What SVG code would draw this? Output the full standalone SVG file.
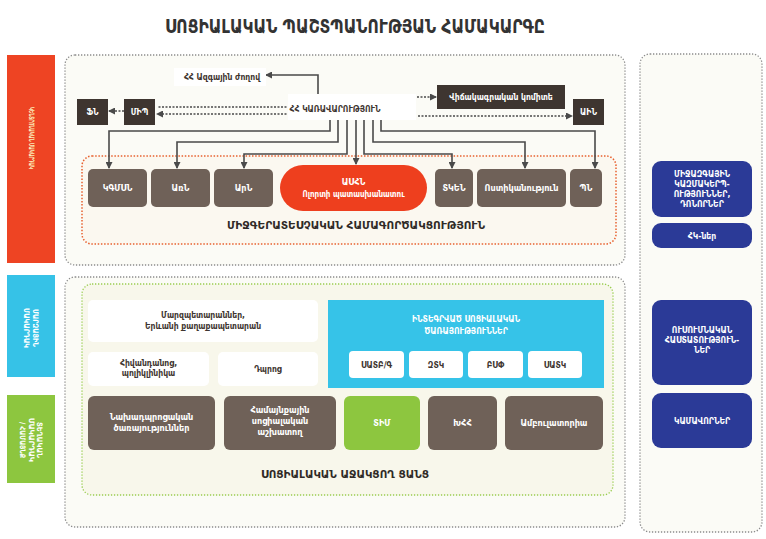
<svg xmlns="http://www.w3.org/2000/svg" width="766" height="539" viewBox="0 0 766 539">
<defs>
<marker id="ah" markerWidth="7" markerHeight="7" refX="6" refY="3.5" orient="auto" markerUnits="userSpaceOnUse">
<path d="M0,0 L7,3.5 L0,7 z" fill="#4a4a4a"/>
</marker>
</defs>
<style>
text{font-family:"DejaVu Sans Condensed","DejaVu Sans",sans-serif;}
.ttl{font-size:19px;font-weight:bold;fill:#333;text-anchor:middle;}
.sec{font-size:11px;font-weight:bold;fill:#2f2a26;text-anchor:middle;}
.frame{fill:#fbfbf6;stroke:#8c8c8c;stroke-width:1.3;stroke-dasharray:1.3 1.7;}
.gframe{fill:#f8f7eb;stroke:#9acd50;stroke-width:1.3;stroke-dasharray:1.3 1.7;}
.oframe{fill:#fbf8f0;stroke:#e8612f;stroke-width:1.5;stroke-dasharray:1.5 1.7;}
.dk{fill:#3e3530;}
.br{fill:#6f6158;}
.wl{font-size:8.5px;font-weight:bold;fill:#fff;text-anchor:middle;}
.bl{font-size:9px;font-weight:bold;fill:#fff;text-anchor:middle;}
.wb{fill:#fff;}
.dl{font-size:8.5px;font-weight:bold;fill:#3e3530;text-anchor:middle;}
.nv{fill:#2b3a97;}
.nl{font-size:8.5px;font-weight:bold;fill:#fff;text-anchor:middle;}
.vt{font-size:7.5px;font-weight:bold;fill:#fbeab8;text-anchor:middle;}
.vt2{font-size:7.5px;font-weight:bold;fill:#fff;text-anchor:middle;}
.cn{fill:none;stroke:#4a4a4a;stroke-width:1.6;}
.ds{fill:none;stroke:#4a4a4a;stroke-width:1.6;stroke-dasharray:2 1.5;}
</style>
<rect width="766" height="539" fill="#fff"/>
<text class="ttl" x="355" y="33" textLength="380" lengthAdjust="spacingAndGlyphs">ՍՈՑԻԱԼԱԿԱՆ ՊԱՇՏՊԱՆՈՒԹՅԱՆ ՀԱՄԱԿԱՐԳԸ</text>

<g id="frames">
<rect class="frame" x="65" y="55" width="560" height="210" rx="10"/>
<rect class="frame" x="65" y="277" width="560" height="250" rx="10"/>
<rect class="frame" x="640" y="54" width="122" height="478" rx="10"/>
<rect class="oframe" x="82" y="156" width="534" height="88" rx="10"/>
<rect class="gframe" x="82" y="284" width="531" height="211" rx="10"/>
</g>

<g id="level-central">
<rect x="7" y="55" width="48" height="208" fill="#ee4423"/>
<text class="vt" transform="translate(31,138) rotate(90)" y="2.5" textLength="62" lengthAdjust="spacingAndGlyphs">ԿԵՆՏՐՈՆԱԿԱՆ ՄԱԿԱՐԴԱԿ</text>
</g>
<g id="level-regional">
<rect x="7" y="275" width="48" height="102" fill="#36c2e7"/>
<text class="vt2" transform="translate(31,328) rotate(90)"><tspan x="0" y="-2" textLength="38" lengthAdjust="spacingAndGlyphs">ՄԱՐԶԱՅԻՆ</tspan><tspan x="0" y="7" textLength="40" lengthAdjust="spacingAndGlyphs">ՄԱԿԱՐԴԱԿ</tspan></text>
</g>
<g id="level-local">
<rect x="7" y="395" width="48" height="88" fill="#8dc63f"/>
<text class="vt2" transform="translate(31,440) rotate(90)"><tspan x="0" y="-6" textLength="36" lengthAdjust="spacingAndGlyphs">ՏԵՂԱԿԱՆ</tspan><tspan x="0" y="2.5" textLength="44" lengthAdjust="spacingAndGlyphs">ՄԱԿԱՐԴԱԿ</tspan><tspan x="0" y="11" textLength="36" lengthAdjust="spacingAndGlyphs">/ ՀԱՄԱՅՆՔ</tspan></text>
</g>

<g id="connectors">
<path class="cn" d="M318,94 V75 H266" marker-end="url(#ah)"/>
<path class="cn" d="M330,120 V131 H109 V168" marker-end="url(#ah)"/>
<path class="cn" d="M338,120 V142 H177 V168" marker-end="url(#ah)"/>
<path class="cn" d="M347,120 V154 H244 V168" marker-end="url(#ah)"/>
<path class="cn" d="M356,120 V164" marker-end="url(#ah)"/>
<path class="cn" d="M364,120 V154 H452 V168" marker-end="url(#ah)"/>
<path class="cn" d="M373,120 V142 H525 V168" marker-end="url(#ah)"/>
<path class="cn" d="M381,120 V131 H595 V168" marker-end="url(#ah)"/>
<path class="ds" d="M290,107 H157"/>
<path class="ds" d="M290,114 H157" marker-end="url(#ah)"/>
<path class="ds" d="M124,111 H109" marker-end="url(#ah)"/>
<path class="ds" d="M417,97 H436" marker-end="url(#ah)"/>
<path class="ds" d="M418,116 H572" marker-end="url(#ah)"/>
</g>

<g id="n-azhoghov">
<rect class="wb" x="174" y="68" width="92" height="18"/>
<text class="dl" x="222" y="80" font-size="9">ՀՀ Ազգային ժողով</text>
</g>
<g id="n-karavarutyun">
<rect class="wb" x="288" y="94" width="128" height="26"/>
<text class="dl" x="335" y="112" font-size="9">ՀՀ ԿԱՌԱՎԱՐՈՒԹՅՈՒՆ</text>
</g>
<g id="n-fn"><rect class="dk" x="77" y="99" width="31" height="26"/><text class="wl" x="92.5" y="115">ՖՆ</text></g>
<g id="n-mip"><rect class="dk" x="124" y="99" width="31" height="26"/><text class="wl" x="139.5" y="115">ՄԻՊ</text></g>
<g id="n-vichak"><rect class="dk" x="437" y="85" width="128" height="24"/><text class="wl" x="501" y="100">Վիճակագրական կոմիտե</text></g>
<g id="n-ain"><rect class="dk" x="573" y="99" width="31" height="26"/><text class="wl" x="588.5" y="115">ԱԻՆ</text></g>

<g id="n-kgmsn"><rect class="br" x="88" y="169" width="59" height="38" rx="5"/><text class="bl" x="117.5" y="191">ԿԳՄՍՆ</text></g>
<g id="n-arrn"><rect class="br" x="151" y="169" width="59" height="38" rx="5"/><text class="bl" x="180.5" y="191">ԱռՆ</text></g>
<g id="n-ardn"><rect class="br" x="214" y="169" width="59" height="38" rx="5"/><text class="bl" x="243.5" y="191">ԱրՆ</text></g>
<g id="n-ashn"><rect x="280" y="165" width="147" height="46" rx="23" fill="#ee3f1e"/><text class="bl" x="353.5" y="185">ԱՍՀՆ</text><text x="353.5" y="197" font-size="8" font-weight="bold" fill="#fff" text-anchor="middle">Ոլորտի պատասխանատու</text></g>
<g id="n-tken"><rect class="br" x="435" y="169" width="38" height="38" rx="5"/><text class="bl" x="454" y="191">ՏԿԵՆ</text></g>
<g id="n-vost"><rect class="br" x="477" y="169" width="89" height="38" rx="5"/><text class="bl" x="521.5" y="191">Ոստիկանություն</text></g>
<g id="n-pn"><rect class="br" x="570" y="169" width="32" height="38" rx="5"/><text class="bl" x="586" y="191">ՊՆ</text></g>
<text class="sec" x="356" y="229" textLength="258" lengthAdjust="spacingAndGlyphs">ՄԻՋԳԵՐԱՏԵՍՉԱԿԱՆ ՀԱՄԱԳՈՐԾԱԿՑՈՒԹՅՈՒՆ</text>

<g id="n-marzpet"><rect class="wb" x="88" y="300" width="230" height="42" rx="5"/><text class="dl" x="203" y="318" font-size="9">Մարզպետարաններ,</text><text class="dl" x="203" y="329" font-size="9">Երևանի քաղաքապետարան</text></g>
<g id="n-hivand"><rect class="wb" x="88" y="352" width="121" height="34" rx="5"/><text class="dl" x="148.5" y="366">Հիվանդանոց,</text><text class="dl" x="148.5" y="376">պոլիկլինիկա</text></g>
<g id="n-dproc"><rect class="wb" x="218" y="352" width="100" height="34" rx="5"/><text class="dl" x="268" y="372">Դպրոց</text></g>
<g id="n-integ">
<rect x="328" y="300" width="276" height="88" fill="#36c3e8"/>
<text class="nl" x="466" y="322" font-size="9.5">ԻՆՏԵԳՐՎԱԾ ՍՈՑԻԱԼԱԿԱՆ</text>
<text class="nl" x="466" y="334" font-size="9.5">ԾԱՌԱՅՈՒԹՅՈՒՆՆԵՐ</text>
</g>
<g id="n-satb"><rect class="wb" x="349" y="351" width="55" height="27" rx="4"/><text class="dl" x="376.5" y="368">ՍԱՏԲ/Գ</text></g>
<g id="n-ztk"><rect class="wb" x="409" y="351" width="54" height="27" rx="4"/><text class="dl" x="436" y="368">ԶՏԿ</text></g>
<g id="n-bsp"><rect class="wb" x="468" y="351" width="55" height="27" rx="4"/><text class="dl" x="495.5" y="368">ԲՍՓ</text></g>
<g id="n-satk"><rect class="wb" x="528" y="351" width="54" height="27" rx="4"/><text class="dl" x="555" y="368">ՍԱՏԿ</text></g>

<g id="n-naxadpr"><rect class="br" x="88" y="396" width="127" height="54" rx="6"/><text class="bl" x="151.5" y="420">Նախադպրոցական</text><text class="bl" x="151.5" y="431">ծառայություններ</text></g>
<g id="n-hamaynq"><rect class="br" x="224" y="396" width="112" height="54" rx="6"/><text class="bl" x="280" y="413">Համայնքային</text><text class="bl" x="280" y="424">սոցիալական</text><text class="bl" x="280" y="435">աշխատող</text></g>
<g id="n-tim"><rect x="344" y="396" width="76" height="54" rx="6" fill="#8dc63f"/><text class="bl" x="382" y="426" font-size="10">ՏԻՄ</text></g>
<g id="n-khhh"><rect class="br" x="428" y="396" width="69" height="54" rx="6"/><text class="bl" x="462.5" y="426">ԽՀՀ</text></g>
<g id="n-ambul"><rect class="br" x="505" y="396" width="98" height="54" rx="6"/><text class="bl" x="554" y="426">Ամբուլատորիա</text></g>
<text class="sec" x="345" y="478" textLength="168" lengthAdjust="spacingAndGlyphs">ՍՈՑԻԱԼԱԿԱՆ ԱՋԱԿՑՈՂ ՑԱՆՑ</text>

<g id="n-mijazg"><rect class="nv" x="652" y="161" width="100" height="56" rx="9"/><text class="nl" x="702" y="177">ՄԻՋԱԶԳԱՅԻՆ</text><text class="nl" x="702" y="187">ԿԱԶՄԱԿԵՐՊ-</text><text class="nl" x="702" y="197">ՈՒԹՅՈՒՆՆԵՐ,</text><text class="nl" x="702" y="207">ԴՈՆՈՐՆԵՐ</text></g>
<g id="n-hk"><rect class="nv" x="652" y="223" width="100" height="25" rx="9"/><text class="nl" x="702" y="239" font-size="10">ՀԿ-ներ</text></g>
<g id="n-usum"><rect class="nv" x="652" y="300" width="100" height="85" rx="9"/><text class="nl" x="702" y="333">ՈՒՍՈՒՄՆԱԿԱՆ</text><text class="nl" x="702" y="343">ՀԱՍՏԱՏՈՒԹՅՈՒՆ-</text><text class="nl" x="702" y="353">ՆԵՐ</text></g>
<g id="n-kamavor"><rect class="nv" x="652" y="393" width="100" height="55" rx="9"/><text class="nl" x="702" y="424" font-size="9">ԿԱՄԱՎՈՐՆԵՐ</text></g>
</svg>
